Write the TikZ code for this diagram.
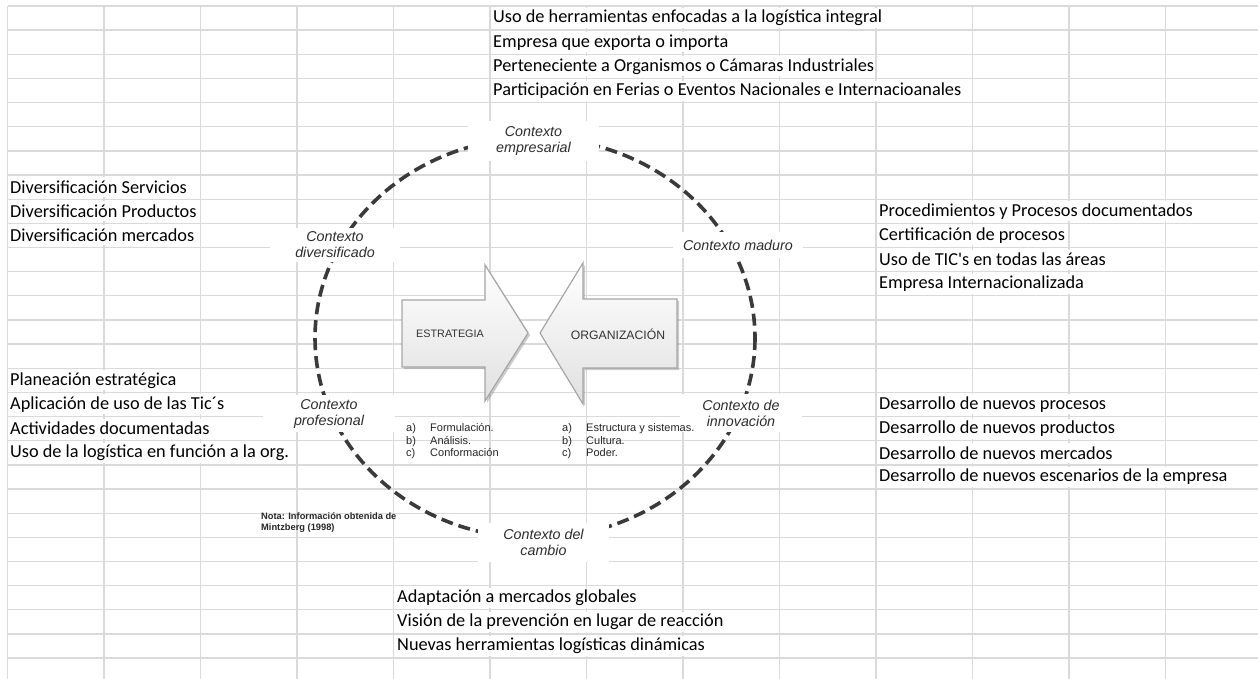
\documentclass[tikz,border=0pt]{standalone}
\usepackage{fontspec}
\setmainfont{Liberation Sans}
\newfontfamily\calib{Carlito}
\usetikzlibrary{shadows}
\definecolor{gridc}{RGB}{218,218,218}
\definecolor{dashc}{RGB}{58,58,58}
\definecolor{lblc}{RGB}{45,45,45}
\begin{document}
\begin{tikzpicture}[x=1pt,y=-1pt,
  cell/.style={anchor=west, fill=white, inner xsep=1pt, inner ysep=0pt, minimum height=20pt,
    font=\calib\fontsize{18.3}{20}\selectfont, text=black},
  ctx/.style={fill=white, inner sep=0pt, align=center, text=lblc,
    font=\fontsize{14.3}{16}\selectfont\itshape},
  bigarrow/.style={top color=white, bottom color=gray!24, draw=gray!70, line width=1.2pt,
    drop shadow={opacity=0.4, shadow xshift=2pt, shadow yshift=-2pt}},
  arrtxt/.style={text=black!80},
  lst/.style={anchor=north west, inner sep=0pt, font=\fontsize{11}{12.6}\selectfont, text=black!85},
  gridline/.style={draw=gridc, line width=1.3pt}
]
\fill[white] (0,0) rectangle (1258,679);
\useasboundingbox (0,0) rectangle (1258,679);
% grid
\foreach \i in {0,...,12} \draw[gridline] ({7.5+96.5*\i},6) -- ({7.5+96.5*\i},679);
\foreach \j in {0,...,27} \draw[gridline] (7.5,{6+24.15*\j}) -- (1258,{6+24.15*\j});

% spreadsheet texts
\node[cell] (t1) at (492,{6+24.15*0.5}) {Uso de herramientas enfocadas a la logística integral};
\node[cell] (t2) at (492,{6+24.15*1.5}) {Empresa que exporta o importa};
\node[cell] (t3) at (492,{6+24.15*2.5}) {Perteneciente a Organismos o Cámaras Industriales};
\node[cell] (t4) at (492,{6+24.15*3.5}) {Participación en Ferias o Eventos Nacionales e Internacioanales};

\node[cell] (l1) at (9,{6+24.15*7.5}) {Diversificación Servicios};
\node[cell] (l2) at (9,{6+24.15*8.5}) {Diversificación Productos};
\node[cell] (l3) at (9,{6+24.15*9.5}) {Diversificación mercados};

\node[cell] (r1) at (878,{6+24.15*8.5}) {Procedimientos y Procesos documentados};
\node[cell] (r2) at (878,{6+24.15*9.5}) {Certificación de procesos};
\node[cell] (r3) at (878,{6+24.15*10.5}) {Uso de TIC's en todas las áreas};
\node[cell] (r4) at (878,{6+24.15*11.5}) {Empresa Internacionalizada};

\node[cell] (l4) at (9,{6+24.15*15.5}) {Planeación estratégica};
\node[cell] (l5) at (9,{6+24.15*16.5}) {Aplicación de uso de las Tic´s};
\node[cell] (l6) at (9,{6+24.15*17.5}) {Actividades documentadas};
\node[cell] (l7) at (9,{6+24.15*18.5}) {Uso de la logística en función a la org.};

\node[cell] (r5) at (878,{6+24.15*16.5}) {Desarrollo de nuevos procesos};
\node[cell] (r6) at (878,{6+24.15*17.5}) {Desarrollo de nuevos productos};
\node[cell] (r7) at (878,{6+24.15*18.5}) {Desarrollo de nuevos mercados};
\node[cell] (r8) at (878,{6+24.15*19.5}) {Desarrollo de nuevos escenarios de la empresa};

\node[cell] (b1) at (396,{6+24.15*24.5}) {Adaptación a mercados globales};
\node[cell] (b2) at (396,{6+24.15*25.5}) {Visión de la prevención en lugar de reacción};
\node[cell] (b3) at (396,{6+24.15*26.5}) {Nuevas herramientas logísticas dinámicas};

% dashed cycle
\draw[dashc, line width=3.6pt, dash pattern=on 12pt off 6pt] (535,338) ellipse [x radius=220, y radius=200];

% context labels
\node[ctx, minimum width=131pt, minimum height=40pt] (cEmp) at (533.5,141) {Contexto\\empresarial};
\node[ctx, minimum width=130pt, minimum height=34pt] (cDiv) at (335,245) {Contexto\\diversificado};
\node[ctx, minimum width=130pt, minimum height=26pt] (cMad) at (738,245) {Contexto maduro};
\node[ctx, minimum width=132pt, minimum height=37pt] (cPro) at (329,413.5) {Contexto\\profesional};
\node[ctx, minimum width=122pt, minimum height=38pt] (cInn) at (741,413) {Contexto de\\innovación};
\node[ctx, minimum width=131pt, minimum height=39pt] (cCam) at (543.5,542.5) {Contexto del\\cambio};

% arrows
\path[bigarrow] (402,300) -- (485,300) -- (485,265) -- (528,333) -- (485,401) -- (485,367) -- (402,367) -- cycle;
\path[bigarrow] (677,299) -- (583,299) -- (583,263) -- (540,333) -- (583,404) -- (583,368) -- (677,368) -- cycle;
\node[arrtxt, font=\fontsize{10.8}{13}\selectfont] (estr) at (450,334) {ESTRATEGIA};
\node[arrtxt, font=\fontsize{12.2}{14}\selectfont] (org) at (618,334) {ORGANIZACIÓN};

% lists
\node[lst] (lstA) at (406,422.5) {\begin{tabular}{@{}p{24pt}@{}l@{}}a) & Formulación.\\ b) & Análisis.\\ c) & Conformación\end{tabular}};
\node[lst] (lstB) at (562,422.5) {\begin{tabular}{@{}p{24pt}@{}l@{}}a) & Estructura y sistemas.\\ b) & Cultura.\\ c) & Poder.\end{tabular}};

% note
\node[anchor=north west, inner sep=0pt, align=left, font=\bfseries\fontsize{9.3}{11.5}\selectfont, text=black!85] (nota) at (261,512) {Nota: Información obtenida de\\Mintzberg (1998)};
\end{tikzpicture}
\end{document}
